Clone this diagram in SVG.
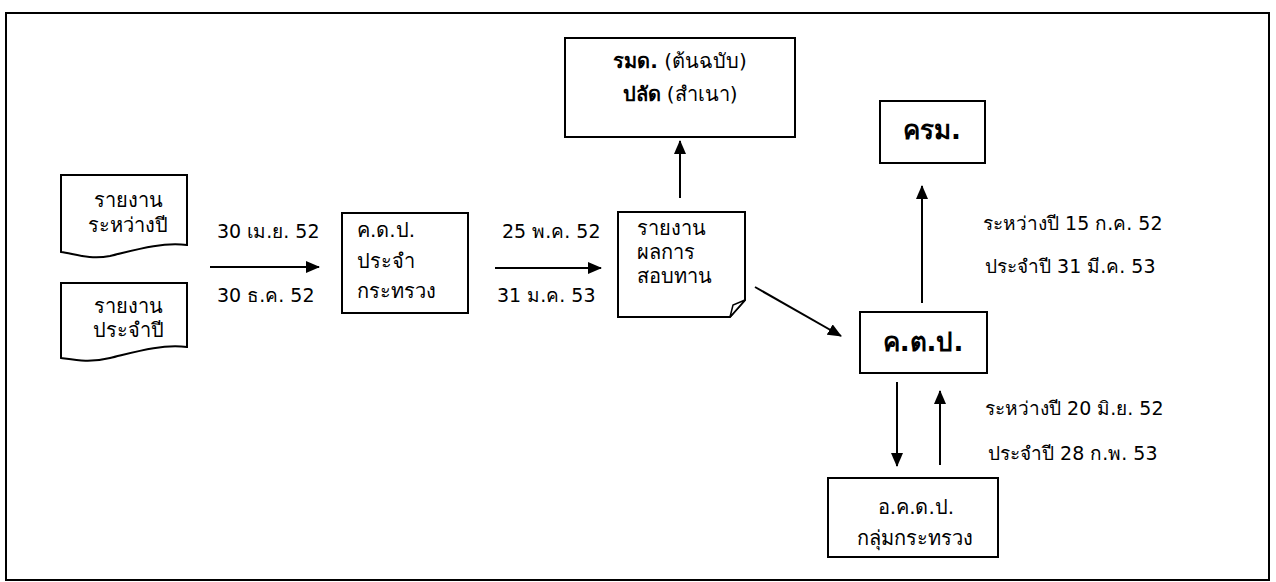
<svg xmlns="http://www.w3.org/2000/svg" width="1276" height="582" viewBox="0 0 1276 582">
<defs>
<marker id="ah" viewBox="0 0 14 12" refX="13" refY="6" markerWidth="14" markerHeight="12" markerUnits="userSpaceOnUse" orient="auto">
<path d="M0,0 L14,6 L0,12 Z" fill="#000"/>
</marker>
</defs>
<style>
.t{font-family:"DejaVu Sans","Noto Sans",sans-serif;font-size:20px;fill:#000}
.l{font-size:19px}
.b{font-weight:bold}
.box{fill:#fff;stroke:#000;stroke-width:2}
.c{fill:none;stroke:#000;stroke-width:2;marker-end:url(#ah)}
</style>
<rect width="1276" height="582" fill="#fff"/>
<rect x="6" y="13" width="1263" height="567" fill="none" stroke="#000" stroke-width="2"/>
<g id="doc-interim">
<path class="box" d="M61,175 H187 V245 C160,242 135,250 110,256 C90,260 75,254 61,252 Z"/>
<text class="t" x="128" y="207" text-anchor="middle">รายงาน</text>
<text class="t" x="128" y="232" text-anchor="middle">ระหว่างปี</text>
</g>
<g id="doc-annual">
<path class="box" d="M61,283 H187 V347 C160,344 135,352 110,358 C90,363 75,360 61,358 Z"/>
<text class="t" x="128" y="313" text-anchor="middle">รายงาน</text>
<text class="t" x="128" y="337" text-anchor="middle">ประจำปี</text>
</g>
<g id="kdp-ministry">
<rect class="box" x="342" y="213" width="126" height="100"/>
<text class="t" x="357" y="237">ค.ด.ป.</text>
<text class="t" x="357" y="268">ประจำ</text>
<text class="t" x="357" y="298">กระทรวง</text>
</g>
<g id="review-report">
<path class="box" d="M618,212 H745 V300 L730,317 H618 Z"/>
<path d="M745,300 L730,317 L733,305 Z" fill="#fff" stroke="#000" stroke-width="1.5"/>
<text class="t" x="637" y="235">รายงาน</text>
<text class="t" x="637" y="259">ผลการ</text>
<text class="t" x="637" y="283">สอบทาน</text>
</g>
<g id="minister">
<rect class="box" x="565" y="38" width="230" height="99"/>
<text class="t" x="680" y="68" text-anchor="middle"><tspan class="b">รมด.</tspan> (ต้นฉบับ)</text>
<text class="t" x="680" y="101" text-anchor="middle"><tspan class="b">ปลัด</tspan> (สำเนา)</text>
</g>
<g id="cabinet">
<rect class="box" x="880" y="101" width="105" height="62"/>
<text class="t b" x="932" y="139" text-anchor="middle" style="font-size:26px">ครม.</text>
</g>
<g id="ktp">
<rect class="box" x="860" y="312" width="127" height="61"/>
<text class="t b" x="923" y="351" text-anchor="middle" style="font-size:26px">ค.ต.ป.</text>
</g>
<g id="aktp">
<rect class="box" x="828" y="478" width="170" height="79"/>
<text class="t" x="916" y="514" text-anchor="middle">อ.ค.ด.ป.</text>
<text class="t" x="915" y="545" text-anchor="middle">กลุ่มกระทรวง</text>
</g>
<g id="connectors">
<line class="c" x1="210" y1="267" x2="319" y2="267"/>
<line class="c" x1="495" y1="268" x2="601" y2="268"/>
<line class="c" x1="680" y1="198" x2="680" y2="141"/>
<line class="c" x1="755" y1="287" x2="841" y2="336"/>
<line class="c" x1="922" y1="303" x2="922" y2="186"/>
<line class="c" x1="897" y1="382" x2="897" y2="466"/>
<line class="c" x1="940" y1="465" x2="940" y2="391"/>
</g>
<g id="labels">
<text class="t l" x="217" y="238">30 เม.ย. 52</text>
<text class="t l" x="217" y="302">30 ธ.ค. 52</text>
<text class="t l" x="502" y="238">25 พ.ค. 52</text>
<text class="t l" x="497" y="302">31 ม.ค. 53</text>
<text class="t l" x="983" y="230">ระหว่างปี 15 ก.ค. 52</text>
<text class="t l" x="985" y="273">ประจำปี 31 มี.ค. 53</text>
<text class="t l" x="985" y="415">ระหว่างปี 20 มิ.ย. 52</text>
<text class="t l" x="988" y="460">ประจำปี 28 ก.พ. 53</text>
</g>
</svg>
